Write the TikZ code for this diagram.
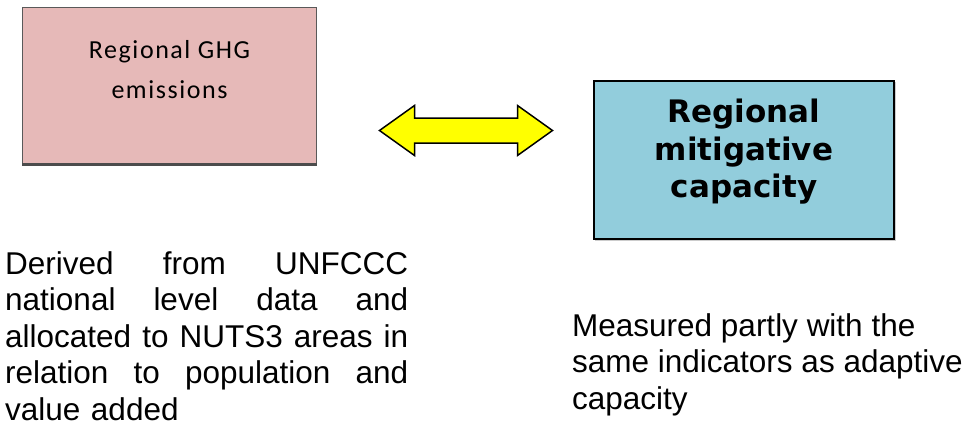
\documentclass[tikz,border=0pt]{standalone}
\usepackage{fontspec}
\setmainfont{Liberation Sans}
\newfontfamily\boxfont[LetterSpace=6]{Carlito}
\newfontfamily\headfont{DejaVu Sans}
\usetikzlibrary{positioning}
\definecolor{ghgpink}{HTML}{E6B9B8}
\definecolor{mitblue}{HTML}{92CDDC}
\definecolor{linkyellow}{HTML}{FFFF00}

\begin{document}
\begin{tikzpicture}[x=1pt, y=-1pt,
    ghgbox/.style={draw=black!65, line width=1pt, fill=ghgpink,
      minimum width=294pt, minimum height=156pt, inner sep=0pt},
    ghglabel/.style={font=\boxfont\fontsize{26}{40}\selectfont,
      align=center, inner sep=0pt},
    mitbox/.style={draw=black, line width=2pt, fill=mitblue,
      minimum width=300pt, minimum height=158pt, inner sep=0pt},
    mitlabel/.style={font=\headfont\bfseries\fontsize{31}{37.5}\selectfont,
      align=center, inner sep=0pt},
    note/.style={font=\fontsize{31.5}{36.5}\selectfont, inner sep=0pt,
      anchor=north west}]
  \useasboundingbox (0,0) rectangle (970,428);

  %% Boxes
  \node[ghgbox, anchor=north west] (ghg) at (22,7) {};
  \draw[black!70, line width=3pt] (ghg.south west) -- (ghg.south east);
  \node[ghglabel, below=33pt of ghg.north] (ghgtext) {Regional GHG\\emissions};

  \draw[black!20, line width=2pt] (595,240) -- (895,240) -- (895,82);
  \node[mitbox, anchor=north west] (mit) at (593,80) {};
  \node[mitlabel, below=19pt of mit.north] (mittext)
    {Regional\\mitigative\\capacity};

  %% Double arrow between the boxes
  \coordinate (link) at (465.5,130.5);
  \draw[fill=linkyellow, line width=1.5pt, line join=miter]
    (link) ++(-86,0) -- ++(35,-25) -- ++(0,12.5) -- ++(103,0)
    -- ++(0,-12.5) -- ++(35,25) -- ++(-35,25) -- ++(0,-12.5)
    -- ++(-103,0) -- ++(0,12.5) -- cycle;

  %% Notes under the boxes (justified by hand, no hyphenation)
  \node[note, text width=403pt, align=left] (ghgnote) at (5,251)
    {Derived\hfill from\hfill UNFCCC\\
     national\hfill level\hfill data\hfill and\\
     allocated\hfill to\hfill NUTS3\hfill areas\hfill in\\
     relation\hfill to\hfill population\hfill and\\
     value added};
  \node[note, align=left] (mitnote) at (572,313)
    {Measured partly with the\\same indicators as adaptive\\capacity};
\end{tikzpicture}
\end{document}
